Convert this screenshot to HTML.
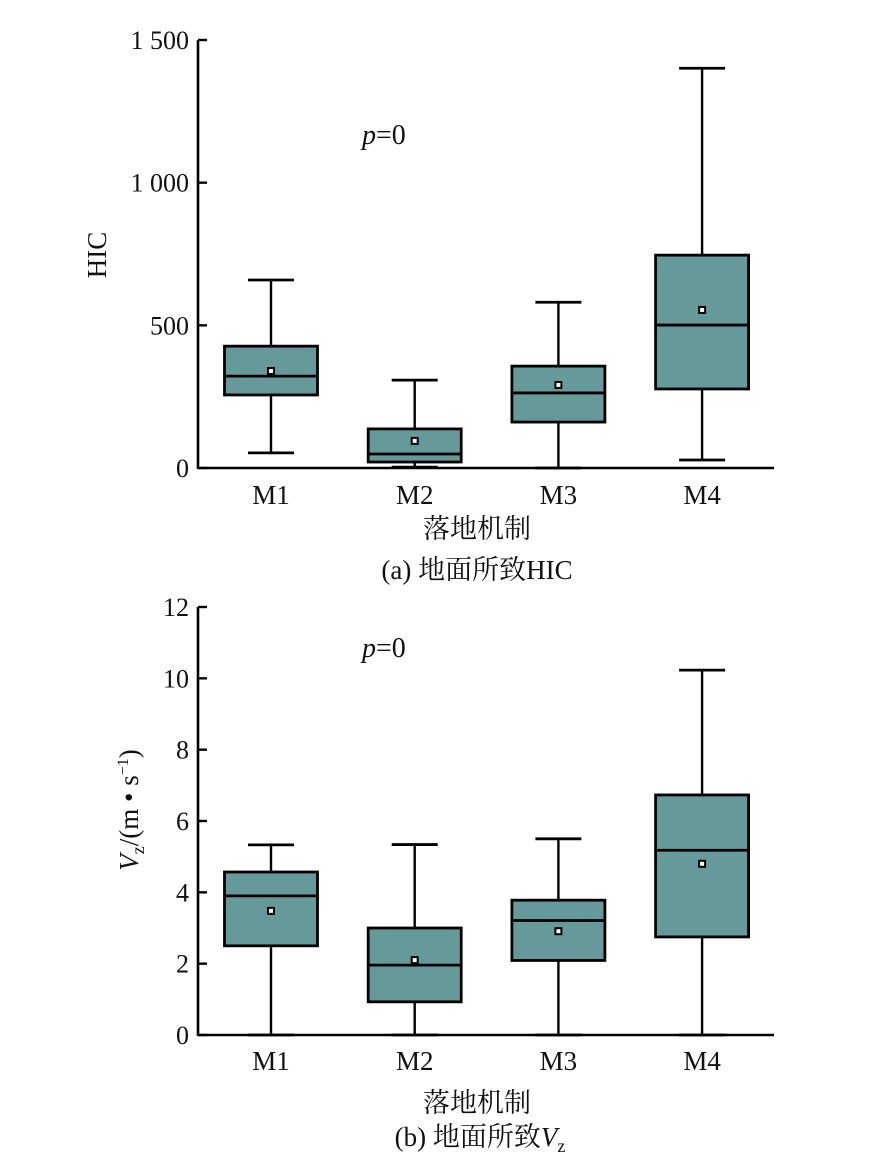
<!DOCTYPE html>
<html><head><meta charset="utf-8"><style>
body{margin:0;background:#fff;overflow:hidden;}
svg text{font-family:"Liberation Serif","Noto Serif CJK SC",serif;fill:#111;}
</style></head><body>
<svg id="svg" width="880" height="1172" viewBox="0 0 880 1172" xmlns="http://www.w3.org/2000/svg" style="position:absolute;left:0;top:0">
<g id="ga"></g>
<g id="gb"></g>
<text x="362" y="144" font-size="28"><tspan font-style="italic">p</tspan>=0</text>
<text x="0" y="0" font-size="27" text-anchor="middle" transform="translate(106,255) rotate(-90)">HIC</text>
<text x="477" y="538" font-size="27" text-anchor="middle">落地机制</text>
<text x="477" y="579" font-size="27" text-anchor="middle">(a)   地面所致HIC</text>
<text x="362" y="657" font-size="28"><tspan font-style="italic">p</tspan>=0</text>
<text x="0" y="0" font-size="27" text-anchor="middle" transform="translate(138,810) rotate(-90)"><tspan font-style="italic">V</tspan><tspan font-size="18" dy="6">z</tspan><tspan dy="-6">/(m • s</tspan><tspan font-size="16" dy="-10">−1</tspan><tspan dy="10">)</tspan></text>
<text x="477" y="1112" font-size="27" text-anchor="middle">落地机制</text>
<text x="480" y="1146" font-size="27" text-anchor="middle">(b)   地面所致<tspan font-style="italic">V</tspan><tspan font-size="18" dy="6">z</tspan></text>
</svg>
<script>
const categories=["M1","M2","M3","M4"];
const hicMin=[53,3,0,28];
const hicQ1=[256,21,161,277];
const hicMedian=[322,49,263,501];
const hicQ3=[427,137,357,746];
const hicMax=[659,308,581,1401];
const hicMean=[340,95,291,554];
const hicTicks=[0,500,1000,1500];
const hicTickLabels=["0","500","1 000","1 500"];
const vzMin=[0,0,0,0];
const vzQ1=[2.5,0.93,2.09,2.75];
const vzMedian=[3.9,1.96,3.21,5.18];
const vzQ3=[4.57,3.0,3.78,6.73];
const vzMax=[5.33,5.34,5.5,10.23];
const vzMean=[3.48,2.1,2.91,4.8];
const vzTicks=[0,2,4,6,8,10,12];
const vzTickLabels=["0","2","4","6","8","10","12"];

const NS="http://www.w3.org/2000/svg";
function mk(parent,tag,attrs,text){const e=document.createElementNS(NS,tag);for(const k in attrs)e.setAttribute(k,attrs[k]);if(text!==undefined)e.textContent=text;parent.appendChild(e);return e;}

function drawChart(g,opt){
  const x0=198,x1=774,y0=opt.y0,yTop=opt.yTop,vmax=opt.vmax;
  const ys=v=>y0-(v/vmax)*(y0-yTop);
  const xs=i=>271+i*143.7;
  const hw=46.5,cw=23;
  categories.forEach((c,i)=>{
    const cx=xs(i);
    const w=mk(g,'line',{x1:cx,x2:cx,y1:ys(opt.max[i]),y2:ys(opt.min[i]),stroke:'#000','stroke-width':2.4});
    
    
    const t=mk(g,'line',{x1:cx-cw,x2:cx+cw,y1:ys(opt.max[i]),y2:ys(opt.max[i]),stroke:'#000','stroke-width':2.8});
    
    
    const b=mk(g,'line',{x1:cx-cw,x2:cx+cw,y1:ys(opt.min[i]),y2:ys(opt.min[i]),stroke:'#000','stroke-width':2.8});
    
    
    const r=mk(g,'rect',{x:cx-hw,y:ys(opt.q3[i]),width:hw*2,height:ys(opt.q1[i])-ys(opt.q3[i]),fill:'#669999',stroke:'#000','stroke-width':2.8});
    
    
    const m=mk(g,'line',{x1:cx-hw,x2:cx+hw,y1:ys(opt.med[i]),y2:ys(opt.med[i]),stroke:'#000','stroke-width':2.8});
    
    
    const mn=mk(g,'rect',{x:cx-3,y:ys(opt.mean[i])-3,width:6,height:6,fill:'#fff',stroke:'#000','stroke-width':2});
    
    
    const lab=mk(g,'text',{x:cx,y:opt.catY,'font-size':27,'text-anchor':'middle'},c);
    
    
  });
  const ya=mk(g,'line',{x1:x0,x2:x0,y1:yTop,y2:y0+1,stroke:'#000','stroke-width':2.6});
  
  
  const xa=mk(g,'line',{x1:x0,x2:x1,y1:y0,y2:y0,stroke:'#000','stroke-width':2.6});
  
  
  opt.ticks.forEach((v,k)=>{
    const tk=mk(g,'line',{x1:x0,x2:x0+9,y1:ys(v),y2:ys(v),stroke:'#000','stroke-width':2.4});
    
    
    const tl=mk(g,'text',{x:x0-9,y:ys(v)+9,'font-size':26,'text-anchor':'end'},opt.labels[k]);
    
    
  });
}
const ga=document.getElementById('ga'),gb=document.getElementById('gb');
drawChart(ga,{y0:468,yTop:40,vmax:1500,min:hicMin,q1:hicQ1,med:hicMedian,q3:hicQ3,max:hicMax,mean:hicMean,ticks:hicTicks,labels:hicTickLabels,catY:504});
drawChart(gb,{y0:1035,yTop:607,vmax:12,min:vzMin,q1:vzQ1,med:vzMedian,q3:vzQ3,max:vzMax,mean:vzMean,ticks:vzTicks,labels:vzTickLabels,catY:1070});
</script>
</body></html>
